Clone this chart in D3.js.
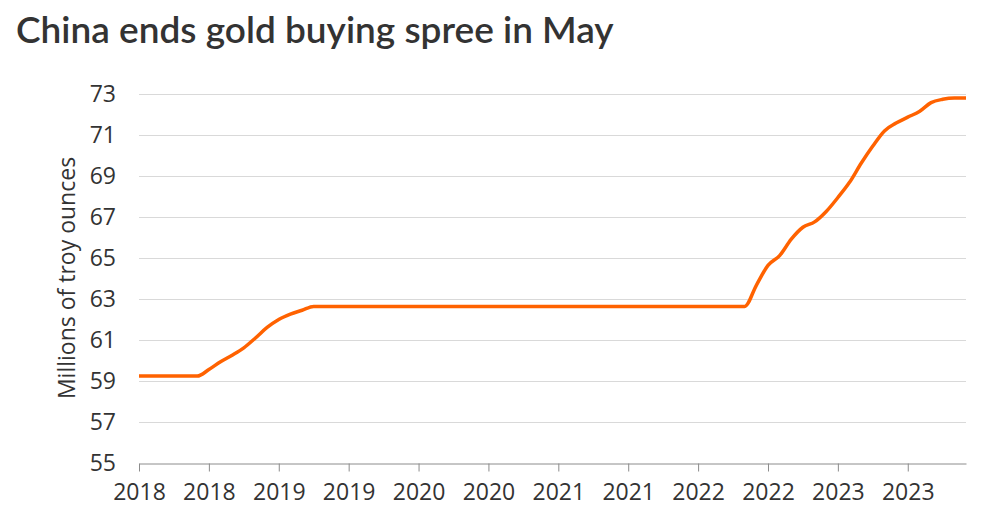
<!DOCTYPE html>
<html>
<head>
<meta charset="utf-8">
<script src="https://cdn.jsdelivr.net/npm/d3@7"></script>
<style>
  body { margin: 0; background: #fff; }
  svg { display: block; }
</style>
</head>
<body>
<script>
var w = 990;
var h = 525;

// monthly, Jun 2018 .. May 2024
var months = [
  "2018-06","2018-07","2018-08","2018-09","2018-10","2018-11","2018-12",
  "2019-01","2019-02","2019-03","2019-04","2019-05","2019-06","2019-07","2019-08","2019-09","2019-10","2019-11","2019-12",
  "2020-01","2020-02","2020-03","2020-04","2020-05","2020-06","2020-07","2020-08","2020-09","2020-10","2020-11","2020-12",
  "2021-01","2021-02","2021-03","2021-04","2021-05","2021-06","2021-07","2021-08","2021-09","2021-10","2021-11","2021-12",
  "2022-01","2022-02","2022-03","2022-04","2022-05","2022-06","2022-07","2022-08","2022-09","2022-10","2022-11","2022-12",
  "2023-01","2023-02","2023-03","2023-04","2023-05","2023-06","2023-07","2023-08","2023-09","2023-10","2023-11","2023-12",
  "2024-01","2024-02","2024-03","2024-04","2024-05"
];

var reserves = [
  59.24,59.24,59.24,59.24,59.24,59.24,59.56,
  59.94,60.26,60.62,61.10,61.61,62.00,62.26,62.45,62.64,62.64,62.64,62.64,
  62.64,62.64,62.64,62.64,62.64,62.64,62.64,62.64,62.64,62.64,62.64,62.64,
  62.64,62.64,62.64,62.64,62.64,62.64,62.64,62.64,62.64,62.64,62.64,62.64,
  62.64,62.64,62.64,62.64,62.64,62.64,62.64,62.64,62.64,62.64,63.67,64.64,
  65.12,65.92,66.50,66.76,67.27,67.95,68.69,69.62,70.46,71.20,71.58,71.87,
  72.15,72.58,72.74,72.80,72.80
];

var tickMonths = ["2018-06","2018-12","2019-06","2019-12","2020-06","2020-12",
                  "2021-06","2021-12","2022-06","2022-12","2023-06","2023-12"];
var tickLabels = ["2018","2018","2019","2019","2020","2020",
                  "2021","2021","2022","2022","2023","2023"];
var yTicks = [55, 57, 59, 61, 63, 65, 67, 69, 71, 73];

var data = months.map(function (m, i) { return { m: m, v: reserves[i] }; });

var svg = d3.select("body").append("svg")
  .attr("width", w)
  .attr("height", h);

svg.append("text")
  .attr("x", 16)
  .attr("y", 43)
  .attr("font-family", "Lato, 'Noto Sans', sans-serif")
  .attr("font-weight", 600)
  .attr("font-size", 37)
  .attr("fill", "#333")
  .text("China ends gold buying spree in May");

var x = d3.scalePoint()
  .domain(months)
  .range([139, 966]);

var y = d3.scaleLinear()
  .domain([55, 73])
  .range([463, 94]);

// gridlines
svg.append("g")
  .selectAll("line")
  .data(yTicks.slice(1))
  .enter().append("line")
  .attr("x1", 139).attr("x2", 966)
  .attr("y1", function (d) { return y(d) + 0.5; })
  .attr("y2", function (d) { return y(d) + 0.5; })
  .attr("stroke", "#d9d9d9")
  .attr("stroke-width", 1);

// y labels
var yAxis = d3.axisLeft(y).tickValues(yTicks).tickSize(0).tickPadding(23);
var gy = svg.append("g").attr("transform", "translate(139,0)").call(yAxis);
gy.select(".domain").remove();
gy.selectAll("text")
  .attr("font-family", "'Open Sans', sans-serif")
  .attr("font-size", 23)
  .attr("fill", "#333");

// x axis
var xAxis = d3.axisBottom(x)
  .tickValues(tickMonths)
  .tickFormat(function (d, i) { return tickLabels[i]; })
  .tickSize(8)
  .tickSizeOuter(0)
  .tickPadding(12);
var gx = svg.append("g").attr("transform", "translate(0,463.5)").call(xAxis);
gx.select(".domain").attr("stroke", "#8c8c8c");
gx.selectAll(".tick line").attr("stroke", "#8c8c8c");
gx.selectAll("text")
  .attr("font-family", "'Open Sans', sans-serif")
  .attr("font-size", 23)
  .attr("fill", "#333");

// y title
svg.append("text")
  .attr("transform", "translate(75,278) rotate(-90)")
  .attr("text-anchor", "middle")
  .attr("font-family", "'Open Sans', sans-serif")
  .attr("font-size", 23)
  .attr("fill", "#333")
  .text("Millions of troy ounces");

var line = d3.line()
  .x(function (d) { return x(d.m); })
  .y(function (d) { return y(d.v); })
  .curve(d3.curveMonotoneX);

svg.append("path")
  .datum(data)
  .attr("d", line)
  .attr("fill", "none")
  .attr("stroke", "#ff6200")
  .attr("stroke-width", 3.5)
  .attr("stroke-linejoin", "round");
</script>
</body>
</html>
